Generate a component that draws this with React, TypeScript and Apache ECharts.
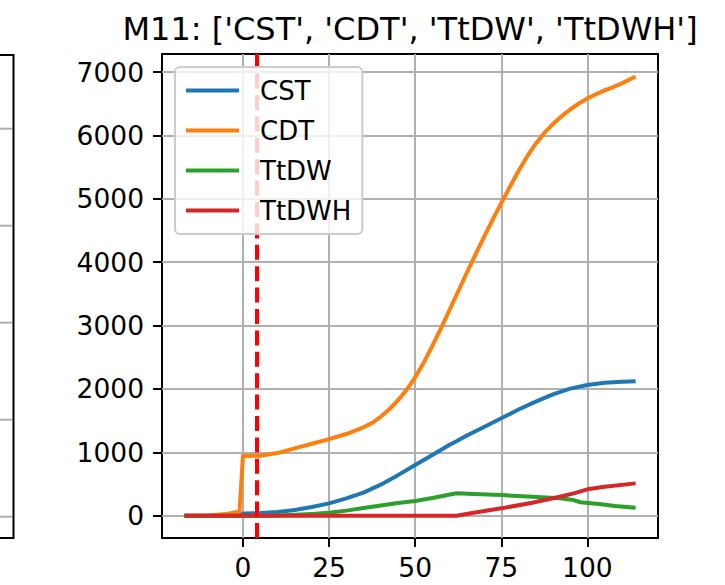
import React, { useEffect, useRef } from "react";
import * as echarts from "echarts";

const cstX = [-17, -1, 0, 5, 10, 15, 20, 25, 30, 35, 40, 45, 50, 55, 60, 62, 65, 70, 75, 80, 85, 90, 95, 100, 105, 110, 114];
const cstY = [0, 5, 35, 42, 60, 90, 138, 195, 274, 365, 490, 640, 800, 958, 1120, 1175, 1265, 1400, 1537, 1675, 1800, 1915, 2005, 2063, 2098, 2114, 2121];

const cdtX = [-17, -10, -5, -1, 0, 5, 10, 15, 20, 25, 30, 35, 37.5, 40, 42.5, 45, 47.5, 50, 52.5, 55, 57.5, 60, 62.5, 65, 67.5, 70, 72.5, 75, 77.5, 80, 82.5, 85, 87.5, 90, 92.5, 95, 97.5, 100, 102.5, 105, 107.5, 110, 114];
const cdtY = [0, 5, 25, 65, 942, 945, 988, 1062, 1135, 1208, 1289, 1395, 1465, 1560, 1680, 1820, 1985, 2184, 2419, 2679, 2959, 3250, 3542, 3834, 4121, 4400, 4670, 4932, 5190, 5440, 5670, 5870, 6040, 6180, 6305, 6410, 6505, 6585, 6650, 6712, 6765, 6822, 6930];

const ttdwX = [-17, 8, 15, 20, 25, 30, 35, 40, 45, 50, 55, 62, 67, 75, 84, 92, 96, 98, 104, 108, 114];
const ttdwY = [0, 0, 15, 28, 47, 80, 122, 160, 200, 232, 279, 353, 342, 326, 300, 274, 247, 212, 179, 153, 126];

const ttdwhX = [-17, 62, 67, 75, 84, 92, 96, 100, 105, 114];
const ttdwhY = [0, 0, 47, 116, 205, 300, 353, 416, 456, 510];

const seriesNames = ["CST", "CDT", "TtDW", "TtDWH"];
const seriesXs = [cstX, cdtX, ttdwX, ttdwhX];
const seriesYs = [cstY, cdtY, ttdwY, ttdwhY];
const colors = ["#1f77b4", "#ff7f0e", "#2ca02c", "#d62728"];
const yTicks = [0, 1000, 2000, 3000, 4000, 5000, 6000, 7000];
const xTicks = [0, 25, 50, 75, 100];
const vLineX = 4;
const titleText = "M11: ['CST', 'CDT', 'TtDW', 'TtDWH']";
const leftPanelGrid = [128.7, 225.7, 322.7, 419.7, 516.7];

const FONT = "DejaVu Sans";

export default function App() {
  const ref = useRef<HTMLDivElement>(null);
  useEffect(() => {
    if (!ref.current) return;
    const chart = echarts.init(ref.current, null, { renderer: "svg" });
    const series: any[] = seriesNames.map((name, i) => ({
      name,
      type: "line",
      data: seriesXs[i].map((x, j) => [x, seriesYs[i][j]]),
      showSymbol: false,
      symbol: "none",
      lineStyle: { color: colors[i], width: 4, join: "round", cap: "butt" },
      itemStyle: { color: colors[i] },
      z: 2,
    }));
    series[series.length - 1].markLine = {
      z: 3,
      silent: true,
      symbol: ["none", "none"],
      label: { show: false },
      lineStyle: { color: "#ff0000", type: [15, 6.4], width: 4 },
      data: [{ xAxis: vLineX }],
    };
    const graphics: any[] = [
      {
        type: "rect",
        shape: { x: -10, y: 55, width: 23.5, height: 483 },
        style: { fill: "none", stroke: "#000", lineWidth: 2 },
        z: 10,
      },
      ...leftPanelGrid.map((y) => ({
        type: "line",
        shape: { x1: 0, y1: y, x2: 12.5, y2: y },
        style: { stroke: "#b0b0b0", lineWidth: 2 },
        z: 9,
      })),
    ];
    const fmt = (v: number) => String(v);
    chart.setOption({
      animation: false,
      backgroundColor: "#fff",
      color: colors,
      title: {
        text: titleText,
        left: 410,
        top: 13,
        padding: 0,
        textAlign: "center",
        textStyle: { fontSize: 32, fontWeight: "normal", fontFamily: FONT, color: "#000" },
      },
      grid: {
        left: 162,
        right: 67,
        top: 54,
        bottom: 47,
        show: true,
        borderColor: "#000",
        borderWidth: 2,
        backgroundColor: "transparent",
      },
      legend: {
        data: seriesNames,
        orient: "vertical",
        left: 175,
        top: 67,
        icon: "rect",
        itemWidth: 53,
        itemHeight: 4,
        itemGap: 13,
        padding: [10, 11, 10, 11],
        backgroundColor: "rgba(255,255,255,0.8)",
        borderColor: "#cccccc",
        borderWidth: 2,
        borderRadius: 5,
        textStyle: { fontSize: 26, fontFamily: FONT, color: "#000", padding: [0, 0, 0, 16], lineHeight: 27 },
      },
      xAxis: {
        type: "value",
        min: -23.5,
        max: 120.5,
        axisLine: { show: false, onZero: false },
        axisTick: { show: true, length: 9, customValues: xTicks, lineStyle: { color: "#000", width: 2 } },
        axisLabel: { customValues: xTicks, formatter: fmt, fontSize: 26.5, fontFamily: FONT, color: "#000", margin: 16 },
        splitLine: { show: true, lineStyle: { color: "#b0b0b0", width: 2 } },
      },
      yAxis: {
        type: "value",
        min: -352,
        max: 7286,
        axisLine: { show: false, onZero: false },
        axisTick: { show: true, length: 9, customValues: yTicks, lineStyle: { color: "#000", width: 2 } },
        axisLabel: { customValues: yTicks, formatter: fmt, fontSize: 26.5, fontFamily: FONT, color: "#000", margin: 18 },
        splitLine: { show: true, lineStyle: { color: "#b0b0b0", width: 2 } },
      },
      graphic: graphics,
      series,
    });
    return () => chart.dispose();
  }, []);
  return <div ref={ref} style={{ position: "absolute", left: 0, top: 0, width: 725, height: 585 }} />;
}
